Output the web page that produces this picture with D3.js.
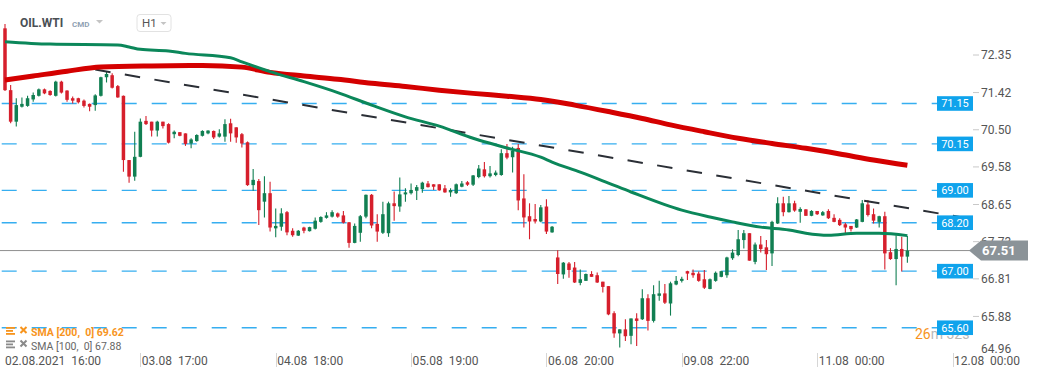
<!DOCTYPE html>
<html><head><meta charset="utf-8">
<script src="https://cdn.jsdelivr.net/npm/d3@7"></script>
<style>
body{margin:0;background:#fff;}
svg{display:block;font-family:Roboto,"Open Sans",sans-serif;}
</style>
</head><body>
<svg id="c" width="1041" height="379"></svg>
<script>
// ---- DATA (OIL.WTI, H1 candles) ----
const opens=[73.01,71.48,70.70,71.07,71.09,71.25,71.34,71.50,71.46,71.34,71.69,71.47,71.28,71.28,71.22,71.14,71.11,71.34,71.80,71.85,
71.58,71.34,69.75,69.34,69.83,70.72,70.70,70.48,70.70,70.64,70.39,70.44,70.41,70.16,70.22,70.35,70.41,70.47,70.33,70.33,
70.66,70.56,70.39,70.19,69.13,69.23,68.72,68.93,68.06,68.10,68.46,68.00,67.88,68.08,67.99,68.05,68.22,68.32,68.35,68.43,
68.38,68.21,67.70,67.95,68.35,68.89,68.17,67.95,67.94,68.68,68.60,68.90,68.93,68.99,69.03,69.17,69.15,69.15,69.05,68.95,
68.93,69.09,69.20,69.14,69.33,69.52,69.35,69.38,69.38,69.92,69.82,70.05,68.80,68.36,68.29,68.23,68.60,67.96,67.34,66.92,
67.19,67.09,66.71,66.76,66.93,66.90,66.74,66.63,65.96,65.46,65.56,65.40,65.83,65.81,66.33,65.77,66.39,66.45,66.20,66.67,
66.76,67.00,66.96,66.94,66.80,66.56,66.76,66.86,66.90,67.32,67.40,67.77,67.94,67.23,67.66,67.59,67.44,68.18,68.68,68.46,
68.68,68.47,68.53,68.37,68.49,68.38,68.49,68.32,68.27,68.16,68.12,68.08,68.22,68.65,68.41,68.22,68.36,67.47,67.30,67.55,67.36];
const highs=[73.12,71.61,71.28,71.30,71.34,71.42,71.52,71.52,71.48,71.71,71.71,71.48,71.32,71.29,71.25,71.15,71.38,71.81,71.94,71.90,
71.61,71.35,69.75,70.45,70.78,70.84,70.70,70.72,70.70,70.66,70.48,70.44,70.41,70.29,70.39,70.49,70.49,70.48,70.51,70.76,
70.77,70.56,70.42,70.21,69.53,69.28,69.35,69.21,68.55,68.56,68.49,68.06,68.02,68.10,68.10,68.33,68.36,68.46,68.51,68.45,
68.49,68.22,68.18,68.39,68.90,68.91,68.41,68.72,68.72,68.97,69.32,69.05,69.17,69.13,69.21,69.23,69.15,69.15,69.13,69.05,
69.17,69.23,69.23,69.38,69.63,69.70,69.60,69.49,70.02,70.15,70.08,70.15,69.40,68.68,68.66,68.64,68.78,68.12,67.52,67.23,
67.23,67.23,67.04,66.94,67.00,66.97,66.74,66.63,66.01,65.56,65.81,65.83,65.96,66.55,66.43,66.65,66.76,66.68,66.74,66.88,
66.86,67.01,67.04,66.99,67.03,66.82,66.99,67.01,67.36,67.54,68.02,68.02,67.94,67.71,67.87,67.77,68.25,68.83,68.84,68.86,
68.74,68.58,68.53,68.51,68.49,68.49,68.53,68.41,68.31,68.20,68.12,68.29,68.76,68.76,68.55,68.37,68.47,67.57,67.89,67.85,67.87];
const lows=[71.46,70.66,70.58,71.05,71.07,71.19,71.32,71.38,71.34,71.32,71.40,71.19,71.15,71.15,71.05,70.96,70.97,71.32,71.67,71.52,
71.29,69.46,69.19,69.24,69.82,70.62,70.33,70.33,70.53,70.16,70.29,70.34,70.10,70.04,70.20,70.33,70.39,70.27,70.31,70.20,
70.20,70.18,70.06,69.11,68.99,68.14,68.33,67.98,67.84,68.00,67.89,67.85,67.87,67.94,67.98,68.03,68.20,68.30,68.33,68.32,
68.18,67.58,67.69,67.73,68.31,68.06,67.73,67.92,67.85,68.25,68.47,68.72,68.90,68.76,68.94,69.07,69.01,68.99,68.94,68.84,
68.91,69.08,69.11,69.11,69.30,69.32,69.32,69.35,69.36,69.77,69.44,68.51,68.08,67.79,68.18,68.21,67.92,67.95,66.68,66.81,
66.84,66.71,66.65,66.76,66.86,66.71,66.47,65.91,65.35,65.11,65.27,65.19,65.15,65.79,65.53,65.73,66.27,66.19,65.90,66.65,
66.72,66.78,66.84,66.74,66.56,66.55,66.74,66.85,66.84,67.28,67.37,67.56,67.26,67.17,67.46,67.03,67.13,68.17,68.36,68.45,
68.47,68.20,68.37,68.36,68.39,68.37,68.29,68.21,68.12,67.94,67.98,68.07,68.21,68.35,68.18,68.08,67.04,67.28,66.65,66.99,67.21];
const closes=[71.48,70.70,71.11,71.14,71.28,71.36,71.50,71.40,71.36,71.69,71.42,71.24,71.22,71.18,71.09,71.07,71.35,71.80,71.88,71.54,
71.30,69.75,69.34,69.83,70.70,70.64,70.48,70.70,70.59,70.18,70.45,70.35,70.15,70.26,70.37,70.47,70.48,70.31,70.41,70.64,
70.41,70.31,70.16,69.13,69.26,68.51,68.93,68.08,68.12,68.43,67.96,67.89,68.00,68.00,68.09,68.25,68.34,68.38,68.46,68.35,
68.20,67.70,68.12,68.36,68.89,68.13,67.98,68.41,68.68,68.61,68.90,68.95,69.01,69.08,69.19,69.08,69.09,69.00,68.95,69.01,
69.15,69.17,69.14,69.37,69.54,69.35,69.42,69.44,69.92,69.81,69.98,68.75,68.33,68.23,68.23,68.58,67.98,68.10,66.93,67.21,
67.03,66.72,66.80,66.93,66.86,66.72,66.61,65.93,65.46,65.56,65.39,65.83,65.77,66.33,65.77,66.43,66.45,66.22,66.70,66.76,
66.81,66.94,66.90,66.76,66.59,66.80,66.96,67.00,67.34,67.46,67.79,67.94,67.26,67.66,67.55,67.42,68.22,68.68,68.46,68.68,
68.50,68.54,68.37,68.49,68.41,68.46,68.31,68.22,68.14,68.08,68.04,68.28,68.68,68.39,68.25,68.36,67.44,67.30,67.55,67.36,67.51];

const sma200Idx=[0,5,11,17,26,35,42,47,53,59,65,71,77,83,89,95,101,107,113,118,124,130,136,142,148,154,160];
const sma200Val=[71.73,71.83,71.95,72.05,72.08,72.09,72.05,71.92,71.83,71.75,71.65,71.57,71.48,71.40,71.33,71.25,71.11,70.95,70.78,70.62,70.45,70.29,70.16,70.04,69.90,69.75,69.62];
const sma100Idx=[0,8,20,22,24,29,32,40,42,47,53,59,65,71,77,83,89,95,97,102,107,111,120,125,129,134,139,142,146,151,155,160];
const sma100Val=[72.68,72.62,72.60,72.55,72.49,72.45,72.39,72.28,72.18,71.94,71.69,71.42,71.11,70.82,70.59,70.29,70.05,69.82,69.70,69.45,69.18,68.96,68.51,68.34,68.22,68.09,68.02,67.94,67.89,67.94,67.94,67.88];

const trendIdx=[16,171];
const trendVal=[71.99,68.30];
const levels=[71.15,70.15,69.00,68.20,67.00,65.60];
const yTicks=[72.35,71.42,70.50,69.58,68.65,67.73,66.81,65.88,64.96];
const xTickIdx=[0,24,48,72,96,120,144,168];
const xTickLabels=["02.08.2021  16:00","03.08  17:00","04.08  18:00","05.08  19:00","06.08  20:00","09.08  22:00","11.08  00:00","12.08  00:00"];
const lastPrice=67.51;
const symbolName="OIL.WTI", symbolType="CMD", intervalName="H1";
const legendNames=["SMA [200,  0]","SMA [100,  0]"];
const legendValues=[69.62,67.88];
const countdownMain="26", countdownRest="m 32s";

// ---- DRAW ----
const svg=d3.select("#c");
svg.append("rect").attr("width",1041).attr("height",379).attr("fill","#fff");
const x=d3.scaleLinear().domain([0,168]).range([5,952.5]);
const y=d3.scaleLinear().domain([64.96,72.35]).range([353.6,55]);
const UP="#117f52", DN="#d61f2c";

// level lines
const gl=svg.append("g");
gl.selectAll("line").data(levels).join("line")
  .attr("x1",1.7).attr("x2",937).attr("y1",d=>y(d)).attr("y2",d=>y(d))
  .attr("stroke","#36aef0").attr("stroke-width",1.4).attr("stroke-dasharray","15,15");

// current price line
svg.append("line").attr("x1",0).attr("x2",970).attr("y1",y(lastPrice)).attr("y2",y(lastPrice))
  .attr("stroke","#8e8e8e").attr("stroke-width",1);

// candles
const idx=d3.range(closes.length);
const gc=svg.append("g");
gc.selectAll("line").data(idx).join("line")
  .attr("x1",i=>x(i)).attr("x2",i=>x(i))
  .attr("y1",i=>y(highs[i])).attr("y2",i=>y(lows[i]))
  .attr("stroke",i=>closes[i]>=opens[i]?UP:DN).attr("stroke-width",1.1);
gc.selectAll("rect").data(idx).join("rect")
  .attr("x",i=>x(i)-1.75).attr("width",3.5)
  .attr("y",i=>y(Math.max(opens[i],closes[i])))
  .attr("height",i=>Math.max(1,Math.abs(y(opens[i])-y(closes[i]))))
  .attr("fill",i=>closes[i]>=opens[i]?UP:DN);

// trend line
const trendLine=d3.line().x(d=>x(d[0])).y(d=>y(d[1]));
svg.append("path").attr("d",trendLine(d3.zip(trendIdx,trendVal)))
  .attr("fill","none").attr("stroke","#2b2f36").attr("stroke-width",2).attr("stroke-dasharray","15.5,14.5");

// SMAs
const smaLine=d3.line().x(d=>x(d[0])).y(d=>y(d[1])).curve(d3.curveMonotoneX);
svg.append("path").attr("d",smaLine(d3.zip(sma200Idx,sma200Val)))
  .attr("fill","none").attr("stroke","#d40000").attr("stroke-width",5).attr("stroke-linejoin","round");
svg.append("path").attr("d",smaLine(d3.zip(sma100Idx,sma100Val)))
  .attr("fill","none").attr("stroke","#0b875a").attr("stroke-width",3).attr("stroke-linejoin","round");

// countdown
const cd=svg.append("text").attr("x",915).attr("y",339).attr("font-size",14);
cd.append("tspan").attr("fill","#f7941d").text(countdownMain);
cd.append("tspan").attr("fill","#b8b8b8").text(countdownRest);

// level labels
const gb=svg.append("g");
gb.selectAll("rect").data(levels).join("rect")
  .attr("x",937).attr("width",36).attr("y",d=>y(d)-7.3).attr("height",14.6).attr("fill","#0fa3ec");
gb.selectAll("text").data(levels).join("text")
  .attr("x",955).attr("y",d=>y(d)+4).attr("text-anchor","middle")
  .attr("font-size",11).attr("fill","#fff").text(d=>d.toFixed(2));

// y axis
const gy=svg.append("g");
gy.selectAll("line").data(yTicks.filter(t=>y(t)<349)).join("line")
  .attr("x1",973).attr("x2",979).attr("y1",d=>y(d)).attr("y2",d=>y(d)).attr("stroke","#c8c8c8");
gy.selectAll("text").data(yTicks).join("text")
  .attr("x",981).attr("y",d=>Math.min(y(d),348.7)+4.3)
  .attr("font-size",12).attr("fill","#555").text(d=>d.toFixed(2));

// current price label
const py=y(lastPrice);
svg.append("polygon")
  .attr("points",[[969,py],[981,py-10],[1028,py-10],[1028,py+10],[981,py+10]].map(p=>p.join(",")).join(" "))
  .attr("fill","#8b9398");
svg.append("text").attr("x",982).attr("y",py+4.6).attr("font-size",13).attr("font-weight","bold")
  .attr("fill","#fff").text(lastPrice.toFixed(2));

// x axis
const gx=svg.append("g");
gx.selectAll("line").data(xTickIdx.slice(1)).join("line")
  .attr("x1",i=>Math.round(x(i))+0.5).attr("x2",i=>Math.round(x(i))+0.5).attr("y1",353).attr("y2",367)
  .attr("stroke","#d6d6d6");
gx.selectAll("text").data(xTickIdx).join("text")
  .attr("x",(i,k)=>k===0?5:x(i)+1.5).attr("y",365)
  .attr("font-size",12).attr("fill","#555").style("white-space","pre")
  .text((i,k)=>xTickLabels[k]);

// header
svg.append("text").attr("x",20).attr("y",27).attr("font-size",12).attr("font-weight","bold").attr("fill","#4a4f55").text(symbolName);
svg.append("text").attr("x",72).attr("y",27).attr("font-size",8).attr("font-weight","bold").attr("fill","#8fa1b3").text(symbolType);
svg.append("path").attr("d","M96,20 L103,20 L99.5,23.5 Z").attr("fill","#c4c4c4");
svg.append("rect").attr("x",137).attr("y",14.5).attr("width",34).attr("height",17).attr("rx",3)
  .attr("fill","#fff").attr("stroke","#e2e2e2");
svg.append("text").attr("x",142).attr("y",27).attr("font-size",11.5).attr("fill","#555").text(intervalName);
svg.append("path").attr("d","M160.5,22 L166.5,22 L163.5,25 Z").attr("fill","#c4c4c4");

// legend
const legColors=["#f7941d","#8a8a8a"], legText=["#f7941d","#666"], legWeight=["bold","normal"];
legendNames.forEach((nm,k)=>{
  const by=327+k*13.5;
  const g=svg.append("g");
  [0,3,6].forEach(o=>g.append("rect").attr("x",6).attr("y",by+o).attr("width",o===3?7:9).attr("height",1.8).attr("fill",legColors[k]));
  g.append("path").attr("d",`M20.5,${by} L26.5,${by+6} M26.5,${by} L20.5,${by+6}`).attr("stroke",legColors[k]).attr("stroke-width",2);
  g.append("text").attr("x",31).attr("y",by+9).attr("font-size",10.5).attr("font-weight",legWeight[k])
    .attr("fill",legText[k]).style("white-space","pre").text(nm+" "+legendValues[k].toFixed(2));
});
</script>
</body></html>
